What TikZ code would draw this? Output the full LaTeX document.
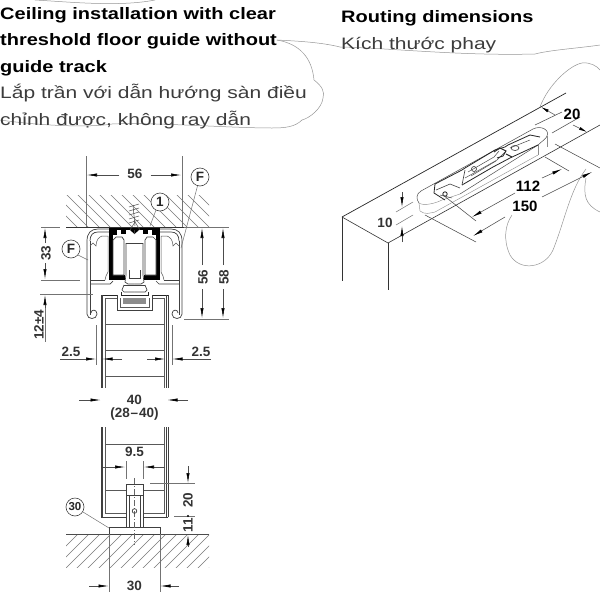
\documentclass[tikz,border=0pt]{standalone}
\usepackage{fontspec}
\setmainfont{Liberation Sans}
\newfontfamily\ttlb[FakeStretch=1.205]{Liberation Sans}
\newfontfamily\ttlr[FakeStretch=1.265]{Liberation Sans}
\usetikzlibrary{arrows.meta}
\definecolor{sketch}{RGB}{150,150,150}
\definecolor{vn}{RGB}{60,60,60}
\definecolor{hat}{RGB}{120,120,120}
\tikzset{
 titlebold/.style={anchor=base west,inner sep=0pt,font=\ttlb\fontsize{16.6}{20}\selectfont\bfseries,text=black},
 titlevn/.style={anchor=base west,inner sep=0pt,font=\ttlr\fontsize{16.6}{20}\selectfont,text=vn},
 dimlabel/.style={inner sep=0pt,font=\fontsize{13.5}{15}\selectfont\bfseries,text=black!80},
 dimlabelR/.style={dimlabel,rotate=90},
 isolabel/.style={inner sep=0pt,font=\fontsize{15}{17}\selectfont\bfseries,text=black},
 dimline/.style={line width=.55pt,black!70},
 ext/.style={line width=.5pt,black!55},
 arr/.style={line width=.55pt,black!70,-{Latex[length=10pt,width=3.2pt,black]}},
 arrs/.style={line width=.55pt,black!70,-{Latex[length=8pt,width=3pt,black]}},
 sketchline/.style={line width=.5pt,sketch},
 prof/.style={line width=.7pt,black!75},
 thin prof/.style={line width=.5pt,black!65},
 hatchl/.style={line width=.4pt,hat},
 callout/.style={draw=black!75,line width=.6pt,circle,minimum size=18pt,inner sep=0pt,font=\fontsize{13.5}{15}\selectfont\bfseries,text=black!85,fill=white},
 heavy/.style={line width=.9pt,black!85},
}
\newcommand{\halfprof}{%
  % outer shell
  \draw[prof] (113,229) -- (98,229) .. controls (91,229) and (87,233) .. (87,241) -- (87,314)
     .. controls (87,320) and (97,320) .. (97,314) .. controls (97,309) and (91,309) .. (91,313);
  \draw[prof] (90,241) .. controls (90,235) and (93,232) .. (98,232) -- (109,232);
  \draw[prof] (90,241) -- (90,315);
  % chamber
  \draw[thin prof] (90,246) -- (93,243) -- (96,246) .. controls (96,240) and (99,237) .. (102,236) -- (108,236) -- (108,272) -- (106,276) -- (105,280);
  \draw[prof] (90,280) -- (105,280);
  \draw[prof] (90,284) -- (110,284) -- (113,281);
  % black bracket
  \fill[black] (109,233) rectangle (113,278);
  \fill[black] (109,275) rectangle (125,280);
  \fill[black] (109,227.5) rectangle (134.5,230);
  \fill[black] (109,230) rectangle (117,235);
  \fill[black] (121,230) rectangle (126,233.5);
  \fill[black] (130,230) -- (134.5,230) -- (134.5,234) -- cycle;
  % roller
  \draw[prof,fill=white] (113,240) -- (116,237) -- (122,237) -- (124,240) -- (124,275) -- (113,275) -- cycle;
  % stem
  \draw[prof] (126,243) -- (134.5,243);
  \draw[prof] (126,243) -- (126,275) -- (125,282) -- (128,284) -- (134.5,284);
  \draw[prof] (129,270) -- (129,278) -- (134.5,278);
  % slider
  \draw[prof] (124,285) -- (134.5,285);
  \draw[prof] (124,285) -- (122,290) -- (124,292) -- (134.5,292);
  \draw[heavy] (121,292) -- (121,295) -- (134.5,295);
  % door head
  \draw[heavy] (101,295) -- (117,295);
  \draw[prof] (101,295) -- (101,388);
  \draw[prof] (102.5,295) -- (102.5,388);
  \draw[thin prof] (105,298) -- (117,298);
  \draw[thin prof] (105,298) -- (105,388);
  \draw[prof] (117,295) -- (117,310) -- (134.5,310);
  \draw[thin prof] (120,298) -- (120,307) -- (134.5,307);
  \fill[black!45] (123,298) rectangle (134.5,304);
  \draw[prof] (101,427) -- (101,517);
  \draw[prof] (102.5,427) -- (102.5,517);
  \draw[thin prof] (105,427) -- (105,513.5);
  \draw[thin prof] (105,513.5) -- (126,513.5);
  \draw[prof] (101,517) -- (126,517);
  \foreach \yy in {324,350,376,444,490}{\draw[thin prof] (105,\yy) -- (134.5,\yy);}
}
\begin{document}
\begin{tikzpicture}[x=1pt,y=-1pt]
\useasboundingbox (0,0) rectangle (600,600);
\clip (0,0) rectangle (600,600);
\fill[white] (0,0) rectangle (600,600);
% --- sketch curves
\draw[sketchline] (35,0) .. controls (70,2) and (120,7) .. (155,0);
\draw[sketchline] (277,40) .. controls (300,44) and (312,58) .. (314,80) .. controls (322,86) and (325,92) .. (323,98)
   .. controls (322,108) and (310,118) .. (302,120) .. controls (295,127) and (285,128) .. (272,128)
   .. controls (230,128) and (150,122) .. (112,124) .. controls (95,127) and (50,127) .. (0,120);
\draw[sketchline] (277,40) .. controls (295,41) and (320,42) .. (340,47) .. controls (390,48) and (460,56) .. (535,54)
   .. controls (550,50) and (580,48) .. (600,45);
\draw[sketchline] (540,107) .. controls (548,85) and (570,65) .. (582,63) .. controls (590,62) and (597,66) .. (600,70);
\draw[sketchline] (586,169) .. controls (570,190) and (565,220) .. (553,250) .. controls (545,268) and (520,272) .. (510,255)
   .. controls (503,240) and (505,225) .. (512,215);
\draw[sketchline] (586,178) .. controls (583,195) and (585,205) .. (600,212);
% --- titles
\node[titlebold] (t1) at (0,19.5) {Ceiling installation with clear};
\node[titlebold] (t2) at (0,45.5) {threshold floor guide without};
\node[titlebold] (t3) at (0,72) {guide track};
\node[titlevn] (t4) at (0,98.5) {Lắp trần với dẫn hướng sàn điều};
\node[titlevn] (t5) at (0,125) {chỉnh được, không ray dẫn};
\node[titlebold] (t6) at (341,22) {Routing dimensions};
\node[titlevn] (t7) at (341,49) {Kích thước phay};
% --- ceiling and floor hatching
\begin{scope}
 \clip (66,195) rectangle (209,227);
 \foreach \i in {0,...,16}{\draw[hatchl] (40+11*\i,190) -- (80+11*\i,230);}
\end{scope}
\draw[line width=.8pt,black!80] (66,227) -- (209,227);
\begin{scope}
 \clip (66,534) rectangle (209,567);
 \foreach \i in {0,...,18}{\draw[hatchl] (40+11*\i,572) -- (80+11*\i,532);}
\end{scope}
\draw[line width=.6pt,black!70] (66,534) -- (209,534);
% --- section
\halfprof
\begin{scope}[xshift=269pt,xscale=-1]\halfprof\end{scope}
% screw
\draw[line width=.5pt,black!70] (135,226) -- (133,205);
\foreach \yy in {206,210,214,218,222}{\draw[line width=.5pt,black!70] (129,\yy+1) -- (139,\yy-2);}
\draw[line width=.5pt,black!70] (130,230) -- (135,222) -- (140,230);
% floor guide
\draw[prof,fill=white] (109,527) rectangle (160,534);
\draw[prof,fill=white] (126,484) rectangle (143,527);
\draw[prof] (126,495) -- (143,495);
\draw[prof] (129,495) -- (129,527);
\draw[prof] (140,495) -- (140,527);
\draw[line width=.4pt,black!60,dash pattern=on 6pt off 2pt on 1pt off 2pt] (134.5,478) -- (134.5,545);
\draw[prof] (134.5,511) circle (2.3);
% --- dims section
\draw[ext] (86,156) -- (86,227);
\draw[ext] (182,156) -- (182,227);
\node[dimlabel] (d56) at (135,174) {56};
\draw[arr] (d56.west) ++(-8,1) -- (87,175);
\draw[arr] (d56.east) ++(8,1) -- (181,175);
\node[callout] (cF1) at (200,177) {F};
\draw[ext] (197.5,186) -- (181,248);
\node[callout] (c1) at (160,202) {1};
\draw[ext] (156,210) -- (150,226);
\node[callout] (cF2) at (71,249) {F};
\draw[ext] (78,255) -- (88,260);
% 33
\draw[ext] (41,227) -- (60,227);
\draw[ext] (41,280) -- (80,280);
\node[dimlabelR] (d33) at (46,253) {33};
\draw[arr] (45,243) -- (45,228);
\draw[arr] (45,263) -- (45,279);
% 12
\draw[ext] (40,294) -- (93,294);
\node[dimlabelR] (d12) at (39,325) {12±4};
\draw[arr] (45,318) -- (45,295);
\draw[ext] (45,308) -- (45,342);
% 56 58
\draw[ext] (184,227) -- (229,227);
\draw[ext] (184,319) -- (229,319);
\node[dimlabelR] (r56) at (203,277) {56};
\node[dimlabelR] (r58) at (224,277) {58};
\draw[arr] (202,265) -- (202,228);
\draw[arr] (202,289) -- (202,318);
\draw[arr] (223,265) -- (223,228);
\draw[arr] (223,289) -- (223,318);
% 2.5
\node[dimlabel] (a1) at (71,352) {2.5};
\node[dimlabel] (a2) at (201,352) {2.5};
\draw[ext] (96.5,325) -- (96.5,365);
\draw[ext] (172,325) -- (172,365);
\draw[arr] (60,359) -- (96,359);
\draw[arr] (122,359) -- (102.5,359);
\draw[arr] (147,359) -- (165,359);
\draw[arr] (211,359) -- (172.5,359);
% 40
\node[dimlabel] (b1) at (134.5,400) {40};
\node[dimlabel] (b2) at (134.5,414.5) {(28\kern.8pt--\kern.8pt40)};
\draw[arr] (79,400) -- (100.5,400);
\draw[arr] (188,400) -- (167.5,400);
% 9.5
\node[dimlabel] (c95) at (134.5,452) {9.5};
\draw[ext] (126,461) -- (126,479);
\draw[ext] (143,461) -- (143,479);
\draw[arr] (103,467) -- (125,467);
\draw[arr] (165,467) -- (144,467);
% 20 / 11
\draw[ext] (150,483.5) -- (195,483.5);
\draw[ext] (174,516) -- (195,516);
\node[dimlabelR] (d20) at (188,500) {20};
\node[dimlabelR] (d11) at (188,525.5) {11};
\draw[arr] (188,466) -- (188,483);
\fill[black] (188,516) circle (1.1);
\draw[arr] (188,547) -- (188,535);
% 30
\draw[ext] (109,534) -- (109,592);
\draw[ext] (160,534) -- (160,592);
\node[dimlabel] (d30) at (134.5,585.5) {30};
\draw[arr] (89,586) -- (108.5,586);
\draw[arr] (179,586) -- (160.5,586);
\node[callout,font=\fontsize{11.5}{13}\selectfont\bfseries] (c30) at (75,507) {30};
\draw[ext] (83,512) -- (109,528);
% --- right drawing: block
\draw[line width=.7pt,black!85] (342,217) -- (566,93);
\draw[line width=.6pt,black!80] (388,243) -- (600,125);
\draw[line width=.6pt,black!80] (342,217) -- (388,243);
\draw[line width=.6pt,black!80] (342,217) -- (342,281);
\draw[line width=.6pt,black!80] (388,243) -- (388,290);
% slot
\draw[line width=.5pt,black!70] (421,191) -- (533,129) .. controls (541,125) and (550,130) .. (547,136)
   .. controls (547,138) and (541,142) .. (538,145) -- (460,194);
\draw[line width=.5pt,black!70] (421,191) .. controls (416,194) and (416,199) .. (419,203);
\draw[line width=.4pt,black!45] (419,203) -- (420,211) .. controls (425,215) and (430,213) .. (435,212) -- (538,155);
\draw[line width=.4pt,black!45] (419,203) .. controls (423,206) and (434,204) .. (442,200) -- (460,194);
\draw[line width=.4pt,black!45] (538,145) -- (538,155);
\draw[line width=.4pt,black!45] (547,136) -- (547,147);
% mechanism
\draw[line width=.8pt,black!85] (435,184) -- (462,170) -- (465,168) -- (495,150) -- (505,147) -- (508,145) -- (530,135) -- (540,137);
\draw[line width=.8pt,black!85] (435,184) -- (434,193) -- (445,200);
\draw[line width=.6pt,black!75] (436,190) -- (450,184) -- (460,188);
\draw[line width=.8pt,black!85] (462,185) -- (493,167) -- (510,158) -- (538,145);
\draw[line width=.6pt,black!75] (462,185) -- (465,170);
\draw[line width=.5pt,black!70] (465,178) -- (497,160) -- (505,152);
\draw[line width=.5pt,black!70] (468,172) -- (494,157) -- (499,151);
\draw[line width=.5pt,black!70] (471,176) -- (496,161);
\draw[line width=.5pt,black!70] (510,148) -- (530,140);
\draw[line width=.9pt,black!85] (494,152) -- (500,148) -- (506,151) -- (503,156) -- (497,158);
\draw[line width=.9pt,black!85] (506,154) -- (512,157);
\draw[line width=.6pt,black!80] (474,169) circle (2.5);
\draw[line width=.6pt,black!80] (515,148) ellipse (4 and 2.5);
\draw[line width=.8pt,black!85] (445,194) circle (2.2);
\draw[line width=.5pt,black!70] (440,195) -- (452,198);
% dims
\draw[dimline] (535,125) -- (562,112);
\draw[dimline] (552,133) -- (580,117);
\draw[arrs] (555,115) -- (541,107);
\draw[arrs] (573,125) -- (587,132);
\node[isolabel] (e20) at (572,114) {20};
\draw[dimline] (443,195) -- (476,221);
\draw[dimline] (545,157) -- (569,171);
\draw[dimline] (425,215) -- (476,242);
\draw[dimline] (555,144) -- (600,168);
\node[isolabel] (e112) at (528,186) {112};
\node[isolabel] (e150) at (525,206) {150};
\draw[arr] (515,193) -- (472,217);
\draw[arr] (542,178) -- (562,169);
\draw[arr] (505,217) -- (473,236);
\draw[arr] (542,197) -- (592,172);
\node[dimlabel] (e10) at (385,223) {10};
\draw[ext] (396,212) -- (413,202);
\draw[ext] (396,225) -- (413,215);
\draw[arr] (402,192) -- (402,207);
\draw[arr] (402,242) -- (402,226);
\end{tikzpicture}
\end{document}
